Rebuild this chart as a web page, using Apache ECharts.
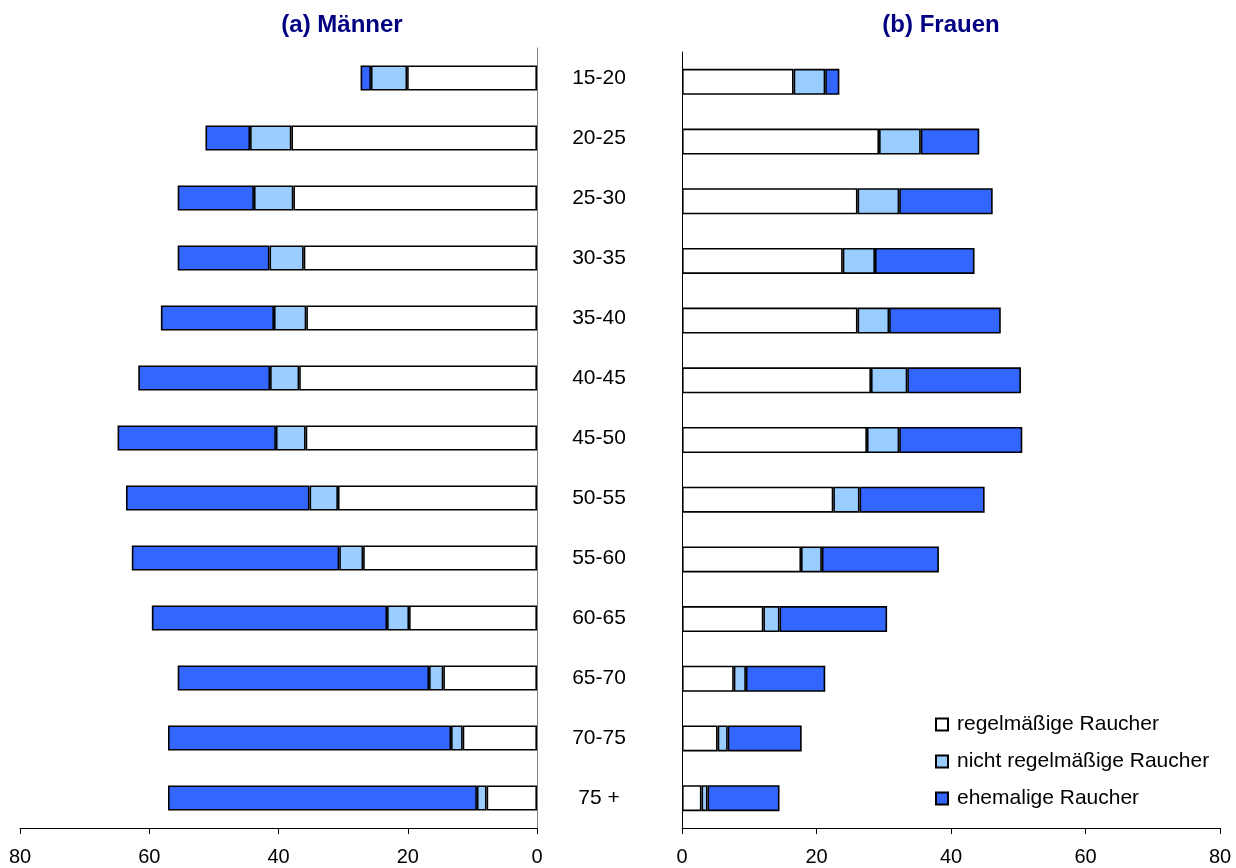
<!DOCTYPE html>
<html>
<head>
<meta charset="utf-8">
<script src="https://cdn.jsdelivr.net/npm/echarts@6/dist/echarts.min.js"></script>
<style>
html,body{margin:0;padding:0;background:#fff;}
#chart{width:1236px;height:868px;}
</style>
</head>
<body>
<div id="chart"></div>
<script>
var categories = ['15-20','20-25','25-30','30-35','35-40','40-45','45-50','50-55','55-60','60-65','65-70','70-75','75 +'];
var seriesNames = ['regelmäßige Raucher','nicht regelmäßige Raucher','ehemalige Raucher'];
var xTicks = [0,20,40,60,80];

// (a) Männer
var menRegular    = [20.1, 38.0, 37.7, 36.1, 35.7, 36.8, 35.8, 30.8, 26.9, 19.8, 14.5, 11.5, 7.8];
var menIrregular  = [5.6, 6.4, 6.1, 5.3, 5.0, 4.5, 4.6, 4.4, 3.7, 3.4, 2.2, 1.8, 1.5];
var menFormer     = [1.6, 6.9, 11.8, 14.2, 17.5, 20.4, 24.5, 28.4, 32.1, 36.4, 38.9, 43.8, 47.8];

// (b) Frauen
var womenRegular   = [16.6, 29.3, 26.1, 23.9, 26.1, 28.1, 27.5, 22.5, 17.7, 12.1, 7.7, 5.3, 2.9];
var womenIrregular = [4.7, 6.2, 6.2, 4.8, 4.7, 5.4, 4.8, 3.9, 3.1, 2.4, 1.8, 1.5, 0.9];
var womenFormer    = [2.1, 8.7, 13.9, 14.8, 16.6, 16.9, 18.3, 18.6, 17.4, 16.0, 11.8, 11.0, 10.7];

var colors = ['#FFFFFF', '#99CCFF', '#3366FF'];
var FONT = '"Liberation Sans", Arial, sans-serif';

function barSeries(name, data, color, idx, stack, bw) {
  return {
    name: name, type: 'bar', stack: stack,
    xAxisIndex: idx, yAxisIndex: idx,
    data: data, barWidth: bw,
    itemStyle: { color: color, borderColor: '#000', borderWidth: 1.6 },
    emphasis: { disabled: true }
  };
}

function valueAxis(idx, inverse) {
  return {
    type: 'value', gridIndex: idx, inverse: inverse,
    min: xTicks[0], max: xTicks[xTicks.length - 1], interval: 20,
    axisLine: { show: true, lineStyle: { color: '#000', width: 1 } },
    axisTick: { show: true, length: 6, lineStyle: { color: '#000' } },
    axisLabel: { fontSize: 20, color: '#000', fontFamily: FONT, margin: 19 },
    splitLine: { show: false }
  };
}

var chart = echarts.init(document.getElementById('chart'), null, { renderer: 'canvas' });
chart.setOption({
  backgroundColor: '#fff',
  animation: false,
  textStyle: { fontFamily: FONT },
  title: [
    { text: '(a) Männer', left: 337, top: 8, textAlign: 'center',
      textStyle: { fontSize: 24, fontWeight: 'bold', color: '#000080', fontFamily: FONT } },
    { text: '(b) Frauen', left: 936, top: 8, textAlign: 'center',
      textStyle: { fontSize: 24, fontWeight: 'bold', color: '#000080', fontFamily: FONT } }
  ],
  legend: {
    data: seriesNames, orient: 'vertical', left: 930, top: 709,
    itemWidth: 12, itemHeight: 12, itemGap: 16, icon: 'rect',
    textStyle: { fontSize: 21, color: '#000', fontFamily: FONT, padding: [0, 0, 0, 4] },
    selectedMode: false
  },
  grid: [
    { left: 20, right: 699, top: 48, bottom: 40, containLabel: false },
    { left: 682, right: 16, top: 52, bottom: 40, containLabel: false }
  ],
  xAxis: [ valueAxis(0, true), valueAxis(1, false) ],
  yAxis: [
    { type: 'category', gridIndex: 0, data: categories, inverse: true, position: 'right',
      axisLine: { show: true, lineStyle: { color: '#808080', width: 1 } },
      axisTick: { show: false },
      axisLabel: { fontSize: 21, color: '#000', fontFamily: FONT, align: 'center', margin: 62 } },
    { type: 'category', gridIndex: 1, data: categories, inverse: true, position: 'left',
      axisLine: { show: true, lineStyle: { color: '#000', width: 1 } },
      axisTick: { show: false },
      axisLabel: { show: false } }
  ],
  series: [
    barSeries(seriesNames[0], menRegular, colors[0], 0, 'men', 25),
    barSeries(seriesNames[1], menIrregular, colors[1], 0, 'men', 25),
    barSeries(seriesNames[2], menFormer, colors[2], 0, 'men', 25),
    barSeries(seriesNames[0], womenRegular, colors[0], 1, 'women', 26),
    barSeries(seriesNames[1], womenIrregular, colors[1], 1, 'women', 26),
    barSeries(seriesNames[2], womenFormer, colors[2], 1, 'women', 26)
  ]
});
</script>
</body>
</html>
